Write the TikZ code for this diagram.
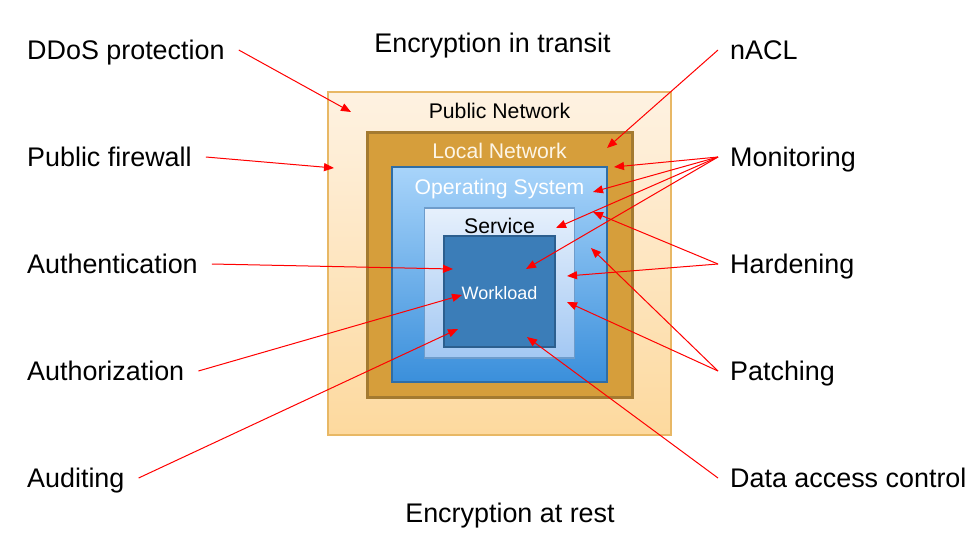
\documentclass[tikz,border=0pt]{standalone}
\usepackage{fontspec}
\setmainfont{Liberation Sans}
\usetikzlibrary{arrows.meta}
\definecolor{pubtop}{HTML}{FEF2E2}
\definecolor{pubbot}{HTML}{FDD99E}
\definecolor{pubedge}{HTML}{E8B865}
\definecolor{locfill}{HTML}{D69E3B}
\definecolor{locedge}{HTML}{A47A30}
\definecolor{loctext}{HTML}{FDF5E6}
\definecolor{ostop}{HTML}{A8D4FA}
\definecolor{osbot}{HTML}{3A8FDB}
\definecolor{osedge}{HTML}{2F6DA5}
\definecolor{svtop}{HTML}{E6F0FC}
\definecolor{svbot}{HTML}{A3C8F3}
\definecolor{svedge}{HTML}{6E9CCB}
\definecolor{wlfill}{HTML}{3B7DB8}
\definecolor{wledge}{HTML}{2C5F8F}

\begin{document}
\begin{tikzpicture}[x=1pt,y=-1pt,every node/.style={inner sep=0pt},
  biglabel/.style={font=\fontsize{26.9}{32}\selectfont,text height=19.4pt,text depth=0pt},
  leftlab/.style={biglabel,anchor=west,inner xsep=14pt},
  rightlab/.style={biglabel,anchor=west,inner xsep=12pt},
  boxtitle/.style={font=\fontsize{21.2}{25}\selectfont,text height=15.2pt,text depth=0pt},
  layer/.style={rectangle,minimum width=#1,minimum height=#1},
  redarrow/.style={red,line width=1pt,-{Triangle[length=10pt,width=8pt]}}]
  \useasboundingbox (0,0) rectangle (977,544);
  % nested layers
  \node[layer=343pt,top color=pubtop,bottom color=pubbot,draw=pubedge,line width=1.3pt] (pub) at (499.5,263.5) {};
  \node[layer=265pt,fill=locfill,draw=locedge,line width=3pt] (loc) at (499.5,264.5) {};
  \node[layer=215pt,top color=ostop,bottom color=osbot,draw=osedge,line width=1.5pt] (os) at (499.5,274.5) {};
  \node[layer=150pt,top color=svtop,bottom color=svbot,draw=svedge,line width=1.5pt] (svc) at (499.5,283) {};
  \node[layer=111pt,fill=wlfill,draw=wledge,line width=2pt] (wl) at (499.5,291.5) {};
  \node[boxtitle] (pubT) at ([yshift=-20pt]pub.north) {Public Network};
  \node[boxtitle,text=loctext] (locT) at ([yshift=-20pt]loc.north) {Local Network};
  \node[boxtitle,text=white] (osT) at ([yshift=-21pt]os.north) {Operating System};
  \node[boxtitle] (svcT) at ([yshift=-19pt]svc.north) {Service};
  \node[font=\fontsize{18}{22}\selectfont,text height=13pt,text depth=0pt,text=white] (wlT) at ([yshift=-1.5pt]wl.center) {Workload};
  % top and bottom
  \node[biglabel] (transit) at (492.5,43) {Encryption in transit};
  \node[biglabel] (rest) at (510,513) {Encryption at rest};
  % left side
  \node[leftlab] (ddos) at (13,50) {DDoS protection};
  \node[leftlab] (fw) at (13,157) {Public firewall};
  \node[leftlab] (authn) at (13,264) {Authentication};
  \node[leftlab] (authz) at (13,371) {Authorization};
  \node[leftlab] (audit) at (13,478) {Auditing};
  % right side
  \node[rightlab] (nacl) at (718,50) {nACL};
  \node[rightlab] (mon) at (718,157) {Monitoring};
  \node[rightlab] (hard) at (718,264) {Hardening};
  \node[rightlab] (patch) at (718,371) {Patching};
  \node[rightlab] (data) at (718,478) {Data access control};
  % arrow targets
  \coordinate (tDdos) at (351,112);
  \coordinate (tFw) at (334,168);
  \coordinate (tAuthn) at (453,269);
  \coordinate (tAuthz) at (462,295);
  \coordinate (tAudit) at (458,329);
  \coordinate (tNacl) at (607,148);
  \coordinate (tMonA) at (614,167);
  \coordinate (tMonB) at (593,192);
  \coordinate (tMonC) at (556,228);
  \coordinate (tMonD) at (526,269);
  \coordinate (tHardA) at (593,212);
  \coordinate (tHardB) at (567,276);
  \coordinate (tPatchA) at (591,248);
  \coordinate (tPatchB) at (567,302);
  \coordinate (tData) at (527,337);
  \draw[redarrow] (ddos.east) -- (tDdos);
  \draw[redarrow] (fw.east) -- (tFw);
  \draw[redarrow] (authn.east) -- (tAuthn);
  \draw[redarrow] (authz.east) -- (tAuthz);
  \draw[redarrow] (audit.east) -- (tAudit);
  \draw[redarrow] (nacl.west) -- (tNacl);
  \draw[redarrow] (mon.west) -- (tMonA);
  \draw[redarrow] (mon.west) -- (tMonB);
  \draw[redarrow] (mon.west) -- (tMonC);
  \draw[redarrow] (mon.west) -- (tMonD);
  \draw[redarrow] (hard.west) -- (tHardA);
  \draw[redarrow] (hard.west) -- (tHardB);
  \draw[redarrow] (patch.west) -- (tPatchA);
  \draw[redarrow] (patch.west) -- (tPatchB);
  \draw[redarrow] (data.west) -- (tData);
\end{tikzpicture}
\end{document}
